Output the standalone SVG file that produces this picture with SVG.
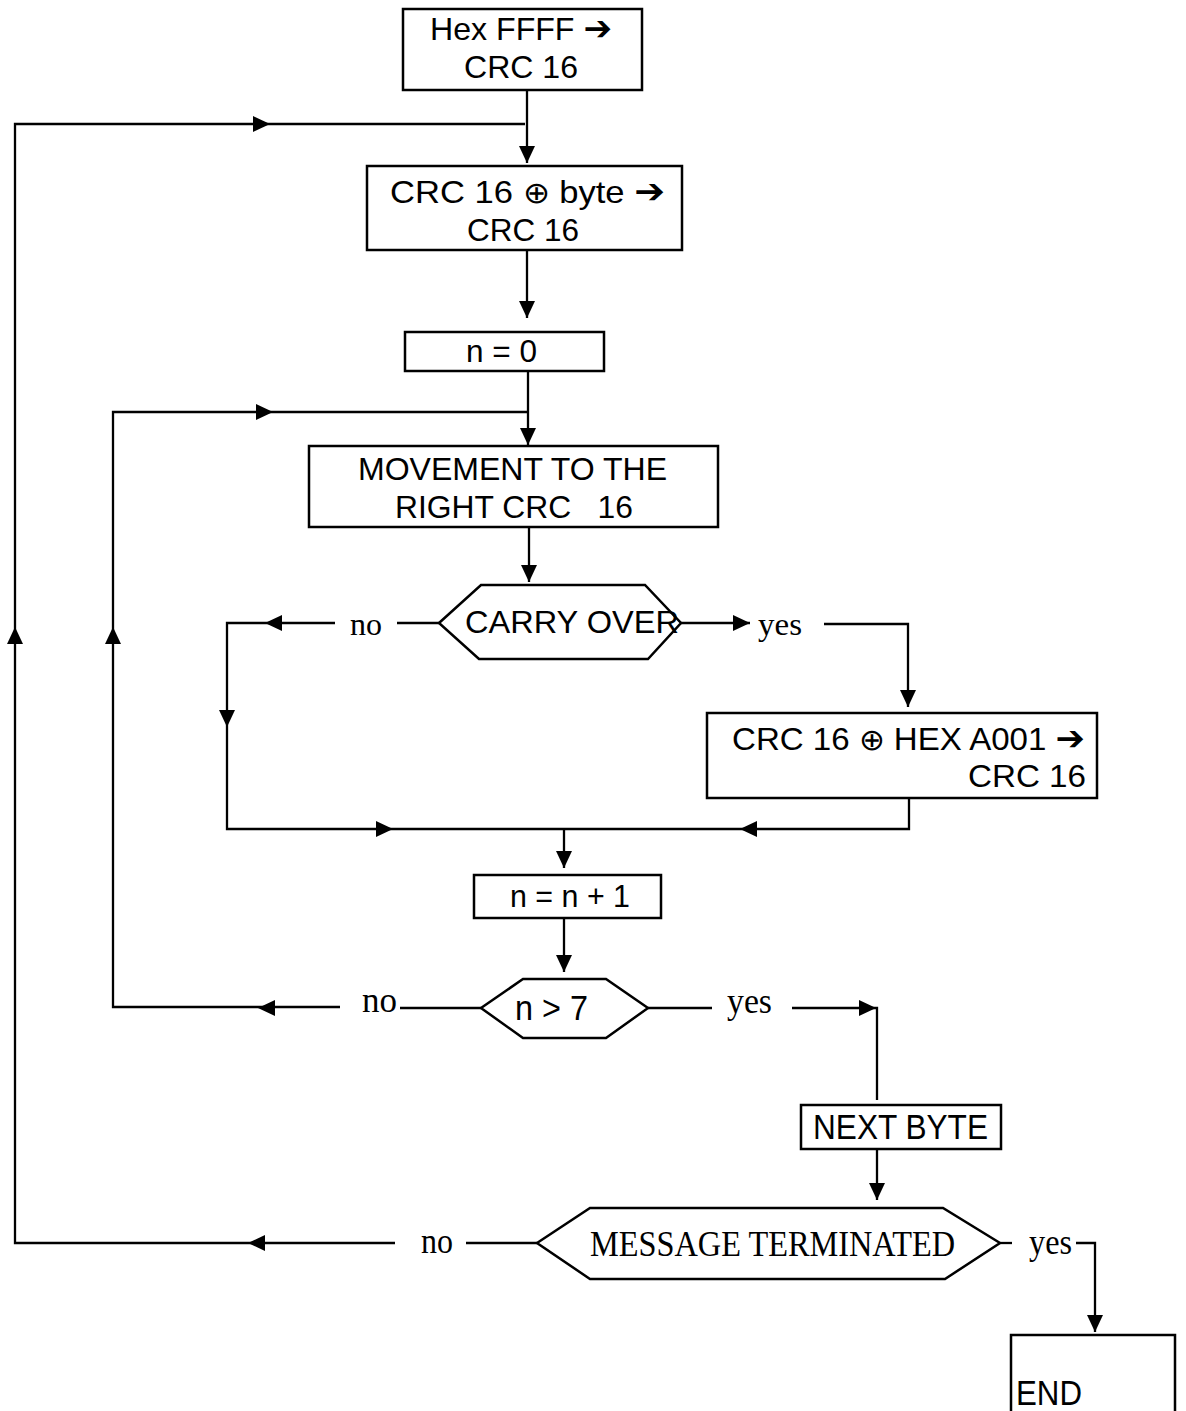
<svg xmlns="http://www.w3.org/2000/svg" xmlns:xlink="http://www.w3.org/1999/xlink" width="1186" height="1411" viewBox="0 0 1186 1411">
<style>
.box{fill:#fff;stroke:#000;stroke-width:2.5}
.ln{fill:none;stroke:#000;stroke-width:2.3}
.t{font-family:"Liberation Sans",Arial,sans-serif;font-size:32px;fill:#000}
.tc{font-family:"Liberation Sans",Arial,sans-serif;font-size:35px;fill:#000}
.s{font-family:"Liberation Serif","Times New Roman",serif;font-size:32px;fill:#000}
.sc{font-family:"Liberation Serif","Times New Roman",serif;font-size:36px;fill:#000}
.sym{font-family:"DejaVu Sans",sans-serif;font-weight:bold;font-size:34px}
.xor{font-family:"DejaVu Sans",sans-serif;font-weight:200;font-size:30px}
</style>
<defs>
<path id="ah" d="M0,0 L-17,-8 L-17,8 Z" fill="#000"/>
</defs>
<rect width="1186" height="1411" fill="#fff"/>

<g id="connectors">
<path class="ln" d="M527,90 V163"/>
<path class="ln" d="M525,124 H15 V1243 H395"/>
<path class="ln" d="M527,250 V318"/>
<path class="ln" d="M528,371 V445"/>
<path class="ln" d="M528,412 H113 V1007 H340"/>
<path class="ln" d="M529,527 V582"/>
<path class="ln" d="M439,623 H397"/>
<path class="ln" d="M335,623 H227 V829 H909 V798"/>
<path class="ln" d="M681,623 H750"/>
<path class="ln" d="M824,624 H908 V707"/>
<path class="ln" d="M564,829 V868"/>
<path class="ln" d="M564,918 V972"/>
<path class="ln" d="M481,1008 H400"/>
<path class="ln" d="M648,1008 H712"/>
<path class="ln" d="M792,1008 H877 V1100"/>
<path class="ln" d="M877,1149 V1200"/>
<path class="ln" d="M537,1243 H466"/>
<path class="ln" d="M1000,1243 H1012"/>
<path class="ln" d="M1076,1243 H1095 V1332"/>
<use xlink:href="#ah" transform="translate(270,124)"/>
<use xlink:href="#ah" transform="translate(527,163) rotate(90)"/>
<use xlink:href="#ah" transform="translate(15,627) rotate(-90)"/>
<use xlink:href="#ah" transform="translate(527,318) rotate(90)"/>
<use xlink:href="#ah" transform="translate(273,412)"/>
<use xlink:href="#ah" transform="translate(528,445) rotate(90)"/>
<use xlink:href="#ah" transform="translate(113,627) rotate(-90)"/>
<use xlink:href="#ah" transform="translate(529,582) rotate(90)"/>
<use xlink:href="#ah" transform="translate(265,623) rotate(180)"/>
<use xlink:href="#ah" transform="translate(750,623)"/>
<use xlink:href="#ah" transform="translate(227,727) rotate(90)"/>
<use xlink:href="#ah" transform="translate(908,707) rotate(90)"/>
<use xlink:href="#ah" transform="translate(393,829)"/>
<use xlink:href="#ah" transform="translate(740,829) rotate(180)"/>
<use xlink:href="#ah" transform="translate(564,868) rotate(90)"/>
<use xlink:href="#ah" transform="translate(564,972) rotate(90)"/>
<use xlink:href="#ah" transform="translate(258,1008) rotate(180)"/>
<use xlink:href="#ah" transform="translate(876,1008)"/>
<use xlink:href="#ah" transform="translate(877,1200) rotate(90)"/>
<use xlink:href="#ah" transform="translate(248,1243) rotate(180)"/>
<use xlink:href="#ah" transform="translate(1095,1332) rotate(90)"/>
<text class="s" x="350" y="635" textLength="32" lengthAdjust="spacingAndGlyphs">no</text>
<text class="s" x="758" y="635" textLength="44" lengthAdjust="spacingAndGlyphs">yes</text>
<text class="sc" x="362" y="1012" textLength="35" lengthAdjust="spacingAndGlyphs">no</text>
<text class="sc" x="727" y="1013" textLength="45" lengthAdjust="spacingAndGlyphs">yes</text>
<text class="sc" x="421" y="1253" textLength="32" lengthAdjust="spacingAndGlyphs">no</text>
<text class="sc" x="1029" y="1254" textLength="43" lengthAdjust="spacingAndGlyphs">yes</text>
</g>

<g id="n1">
<rect class="box" x="403" y="9" width="239" height="81"/>
<text class="t" x="430" y="40" textLength="182" lengthAdjust="spacingAndGlyphs">Hex FFFF <tspan class="sym">➔</tspan></text>
<text class="t" x="464" y="78" textLength="114" lengthAdjust="spacingAndGlyphs">CRC 16</text>
</g>

<g id="n2">
<rect class="box" x="367" y="166" width="315" height="84"/>
<text class="t" x="390" y="203" textLength="275" lengthAdjust="spacingAndGlyphs">CRC 16 <tspan class="xor">⊕</tspan> byte <tspan class="sym">➔</tspan></text>
<text class="t" x="467" y="241" textLength="112" lengthAdjust="spacingAndGlyphs">CRC 16</text>
</g>

<g id="n3">
<rect class="box" x="405" y="332" width="199" height="39"/>
<text class="t" x="466" y="362" textLength="71" lengthAdjust="spacingAndGlyphs">n = 0</text>
</g>

<g id="n4">
<rect class="box" x="309" y="446" width="409" height="81"/>
<text class="t" x="358" y="480" textLength="309" lengthAdjust="spacingAndGlyphs">MOVEMENT TO THE</text>
<text class="t" x="395" y="518" textLength="238" lengthAdjust="spacingAndGlyphs" xml:space="preserve">RIGHT CRC   16</text>
</g>

<g id="n5">
<polygon class="box" points="439,623 481,585 645,585 681,623 648,659 479,659"/>
<text class="t" x="465" y="633" textLength="214" lengthAdjust="spacingAndGlyphs">CARRY OVER</text>
</g>

<g id="n6">
<rect class="box" x="707" y="713" width="390" height="85"/>
<text class="t" x="732" y="750" textLength="353" lengthAdjust="spacingAndGlyphs">CRC 16 <tspan class="xor">⊕</tspan> HEX A001 <tspan class="sym">➔</tspan></text>
<text class="t" x="968" y="787" textLength="118" lengthAdjust="spacingAndGlyphs">CRC 16</text>
</g>

<g id="n7">
<rect class="box" x="474" y="875" width="187" height="43"/>
<text class="t" x="510" y="907" textLength="120" lengthAdjust="spacingAndGlyphs">n = n + 1</text>
</g>

<g id="n8">
<polygon class="box" points="481,1008 523,979 606,979 648,1008 606,1038 523,1038"/>
<text class="tc" x="515" y="1020" textLength="73" lengthAdjust="spacingAndGlyphs">n &gt; 7</text>
</g>

<g id="n9">
<rect class="box" x="801" y="1105" width="200" height="44"/>
<text class="tc" x="813" y="1139" textLength="175" lengthAdjust="spacingAndGlyphs">NEXT BYTE</text>
</g>

<g id="n10">
<polygon class="box" points="537,1243 590,1208 943,1208 1000,1243 945,1279 590,1279"/>
<text class="sc" x="590" y="1256" textLength="365" lengthAdjust="spacingAndGlyphs">MESSAGE TERMINATED</text>
</g>

<g id="n11">
<path class="box" d="M1011,1412 V1335 H1175 V1412"/>
<text class="tc" x="1016" y="1405" textLength="66" lengthAdjust="spacingAndGlyphs">END</text>
</g>
</svg>
